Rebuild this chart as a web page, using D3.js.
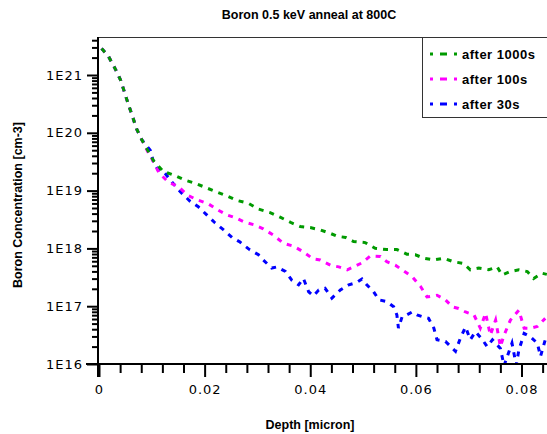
<!DOCTYPE html>
<html><head><meta charset="utf-8">
<script src="https://cdn.jsdelivr.net/npm/d3@7/dist/d3.min.js"></script>
<style>
html,body{margin:0;padding:0;background:#fff;}
svg{display:block;}
</style></head>
<body>
<svg id="chart" width="547" height="434"></svg>
<script>
// ---- data (depth in micron, concentration as log10 of cm-3) ----
const seriesNames = ["after 1000s", "after 100s", "after 30s"];
const seriesColors = ["#009a00", "#ff00ff", "#0000ff"];

const depth1000 = [0.0005,0.0018,0.0030,0.0041,0.0049,0.0056,0.0064,0.0071,0.0081,0.0092,0.0103,0.0122,0.0141,0.0163,0.0181,0.0200,0.0222,0.0242,0.0261,0.0283,0.0302,0.0324,0.0343,0.0365,0.0381,0.0400,0.0419,0.0438,0.0451,0.0467,0.0482,0.0504,0.0523,0.0545,0.0564,0.0583,0.0599,0.0615,0.0634,0.0653,0.0671,0.0690,0.0703,0.0719,0.0738,0.0754,0.0763,0.0779,0.0795,0.0811,0.0823,0.0839,0.0848];
const logConc1000 = [21.46,21.32,21.12,20.91,20.68,20.48,20.27,20.07,19.88,19.70,19.52,19.33,19.27,19.18,19.13,19.06,18.98,18.91,18.83,18.78,18.68,18.62,18.54,18.44,18.38,18.36,18.32,18.26,18.21,18.19,18.12,18.10,18.00,17.98,17.98,17.90,17.89,17.83,17.80,17.83,17.77,17.74,17.63,17.66,17.63,17.68,17.54,17.60,17.63,17.60,17.48,17.57,17.55];

const depth100 = [0.0005,0.0018,0.0030,0.0041,0.0049,0.0056,0.0064,0.0071,0.0081,0.0092,0.0103,0.0114,0.0131,0.0150,0.0168,0.0186,0.0207,0.0226,0.0242,0.0258,0.0277,0.0293,0.0311,0.0330,0.0349,0.0368,0.0387,0.0405,0.0419,0.0438,0.0454,0.0470,0.0482,0.0498,0.0514,0.0533,0.0545,0.0561,0.0577,0.0593,0.0609,0.0621,0.0640,0.0656,0.0669,0.0681,0.0694,0.0710,0.0722,0.0732,0.0741,0.0751,0.0760,0.0767,0.0779,0.0795,0.0805,0.0817,0.0830,0.0845];
const logConc100 = [21.46,21.32,21.12,20.91,20.68,20.48,20.27,20.07,19.88,19.68,19.50,19.30,19.15,19.07,18.92,18.84,18.77,18.66,18.58,18.53,18.45,18.41,18.34,18.23,18.09,18.04,17.94,17.82,17.80,17.71,17.68,17.63,17.68,17.75,17.87,17.86,17.77,17.71,17.61,17.51,17.34,17.16,17.19,17.11,16.99,16.96,16.90,16.85,16.62,16.88,16.50,16.76,16.30,16.50,16.76,16.93,16.62,16.62,16.65,16.79];

const depth30 = [0.0005,0.0018,0.0030,0.0041,0.0049,0.0056,0.0064,0.0071,0.0081,0.0097,0.0103,0.0112,0.0125,0.0138,0.0154,0.0172,0.0188,0.0204,0.0220,0.0236,0.0252,0.0267,0.0285,0.0302,0.0311,0.0327,0.0337,0.0353,0.0365,0.0378,0.0387,0.0397,0.0406,0.0416,0.0428,0.0441,0.0457,0.0473,0.0488,0.0498,0.0507,0.0520,0.0530,0.0545,0.0558,0.0564,0.0567,0.0574,0.0583,0.0593,0.0602,0.0612,0.0624,0.0634,0.0640,0.0656,0.0675,0.0684,0.0694,0.0703,0.0713,0.0726,0.0735,0.0745,0.0760,0.0767,0.0773,0.0782,0.0790,0.0795,0.0805,0.0817,0.0830,0.0836,0.0845];
const logConc30 = [21.46,21.32,21.12,20.91,20.68,20.48,20.27,20.07,19.88,19.70,19.50,19.36,19.30,19.15,18.98,18.82,18.72,18.58,18.44,18.32,18.19,18.11,17.98,17.89,17.80,17.66,17.68,17.60,17.45,17.37,17.48,17.25,17.18,17.28,17.31,17.14,17.28,17.37,17.41,17.47,17.37,17.25,17.11,17.08,16.99,16.85,16.62,16.82,16.85,16.90,16.85,16.82,16.79,16.62,16.42,16.39,16.22,16.44,16.64,16.42,16.56,16.42,16.30,16.42,16.27,15.97,16.13,16.36,15.98,16.24,16.53,16.47,16.36,16.13,16.42];

const xTickValues = [0, 0.02, 0.04, 0.06, 0.08];
const xTickLabels = ["0", "0.02", "0.04", "0.06", "0.08"];
const yTickValues = [1e16, 1e17, 1e18, 1e19, 1e20, 1e21];
const yTickLabels = ["1E16", "1E17", "1E18", "1E19", "1E20", "1E21"];

const series = [
  {name: seriesNames[0], color: seriesColors[0], xs: depth1000, ls: logConc1000},
  {name: seriesNames[1], color: seriesColors[1], xs: depth100, ls: logConc100},
  {name: seriesNames[2], color: seriesColors[2], xs: depth30, ls: logConc30}
].map(s => ({...s, pts: s.xs.map((d, i) => ({x: d, y: Math.pow(10, s.ls[i])}))}));

// ---- layout ----
const svg = d3.select("#chart");
const L = 99, R = 547, T = 37, B = 364;
const x = d3.scaleLinear().domain([0, 0.08]).range([L, 521.5]);
const xMax = x.invert(R);
x.domain([0, xMax]).range([L, R]);
const yBase = d3.scaleLog().domain([1e16, 1e21]).range([B, 75]);
const yTop = yBase.invert(T);
const y = d3.scaleLog().domain([1e16, yTop]).range([B, T]);

svg.append("defs").append("clipPath").attr("id", "clip")
  .append("rect").attr("x", L).attr("y", T).attr("width", R - L).attr("height", B - T);

// title
svg.append("text").attr("x", 309).attr("y", 19).attr("text-anchor", "middle")
  .style("font-family", "Liberation Sans, Arial, sans-serif").style("font-weight", "bold").style("font-size", "12.5px")
  .text("Boron 0.5 keV anneal at 800C");

// top border
svg.append("line").attr("x1", L).attr("x2", R).attr("y1", T + 0.5).attr("y2", T + 0.5)
  .attr("stroke", "#333").attr("stroke-width", 1);

// data lines (drawn so that the first series ends up on top)
const line = d3.line().x(d => x(d.x)).y(d => y(d.y));
const g = svg.append("g").attr("clip-path", "url(#clip)");
series.slice().reverse().forEach(s => {
  g.append("path").datum(s.pts).attr("d", line).attr("fill", "none")
    .attr("stroke", s.color).attr("stroke-width", 3).attr("stroke-dasharray", "5,6");
});

// x axis
const xMinor = d3.range(0, xMax + 1e-9, 0.004).filter(v => !xTickValues.some(t => Math.abs(t - v) < 1e-9));
const xAxisMinor = d3.axisBottom(x).tickValues(xMinor).tickSize(9).tickFormat("");
const xAxis = d3.axisBottom(x).tickValues(xTickValues).tickSize(13).tickPadding(5)
  .tickFormat((d, i) => xTickLabels[i]);
const gxm = svg.append("g").attr("transform", `translate(0,${B})`).call(xAxisMinor);
const gx = svg.append("g").attr("transform", `translate(0,${B})`).call(xAxis);
[gx, gxm].forEach(a => {
  a.select(".domain").remove();
  a.selectAll(".tick line").attr("stroke", "#000").attr("stroke-width", 2);
});
gx.selectAll(".tick text").style("font-family", "DejaVu Sans, sans-serif").style("font-size", "13px")
  .style("letter-spacing", "1px").attr("fill", "#000").attr("dy", "0.9em");
svg.append("line").attr("x1", 86).attr("x2", R).attr("y1", B).attr("y2", B).attr("stroke", "#000").attr("stroke-width", 2);

// y axis
const yMinorVals = [];
for (let e = 16; e <= 21; e++) for (let m = 2; m <= 9; m++) { const v = m * Math.pow(10, e); if (v <= yTop) yMinorVals.push(v); }
const yAxisMinor = d3.axisLeft(y).tickValues(yMinorVals).tickSize(6).tickFormat("");
const yAxis = d3.axisLeft(y).tickValues(yTickValues).tickSize(11).tickPadding(4)
  .tickFormat((d, i) => yTickLabels[i]);
const gym = svg.append("g").attr("transform", `translate(${L - 1},0)`).call(yAxisMinor);
const gy = svg.append("g").attr("transform", `translate(${L - 1},0)`).call(yAxis);
[gy, gym].forEach(a => {
  a.select(".domain").remove();
  a.selectAll(".tick line").attr("stroke", "#000").attr("stroke-width", 2);
});
gy.selectAll(".tick text").style("font-family", "DejaVu Sans, sans-serif").style("font-size", "13px")
  .style("letter-spacing", "1px").attr("fill", "#000");
svg.append("line").attr("x1", L - 1).attr("x2", L - 1).attr("y1", T).attr("y2", B + 13).attr("stroke", "#000").attr("stroke-width", 2);

// axis titles
svg.append("text").attr("x", 310).attr("y", 429).attr("text-anchor", "middle")
  .style("font-family", "Liberation Sans, Arial, sans-serif").style("font-weight", "bold").style("font-size", "12.5px")
  .text("Depth [micron]");
svg.append("text").attr("transform", "translate(22,205) rotate(-90)").attr("text-anchor", "middle")
  .style("font-family", "Liberation Sans, Arial, sans-serif").style("font-weight", "bold").style("font-size", "12.5px")
  .text("Boron Concentration [cm-3]");

// legend
const lg = svg.append("g");
lg.append("rect").attr("x", 422.5).attr("y", T + 0.5).attr("width", 140).attr("height", 80)
  .attr("fill", "#fff").attr("stroke", "#333").attr("stroke-width", 1);
series.forEach((s, i) => {
  const yy = 54 + i * 25;
  lg.append("line").attr("x1", 430).attr("x2", 457).attr("y1", yy).attr("y2", yy)
    .attr("stroke", s.color).attr("stroke-width", 3).attr("stroke-dasharray", "3,7,7,7,3");
  lg.append("text").attr("x", 462).attr("y", yy).attr("dy", "0.35em")
    .style("font-family", "Liberation Sans, Arial, sans-serif").style("font-weight", "bold").style("font-size", "13px")
    .style("letter-spacing", "0.5px")
    .text(s.name);
});
</script>
</body></html>
